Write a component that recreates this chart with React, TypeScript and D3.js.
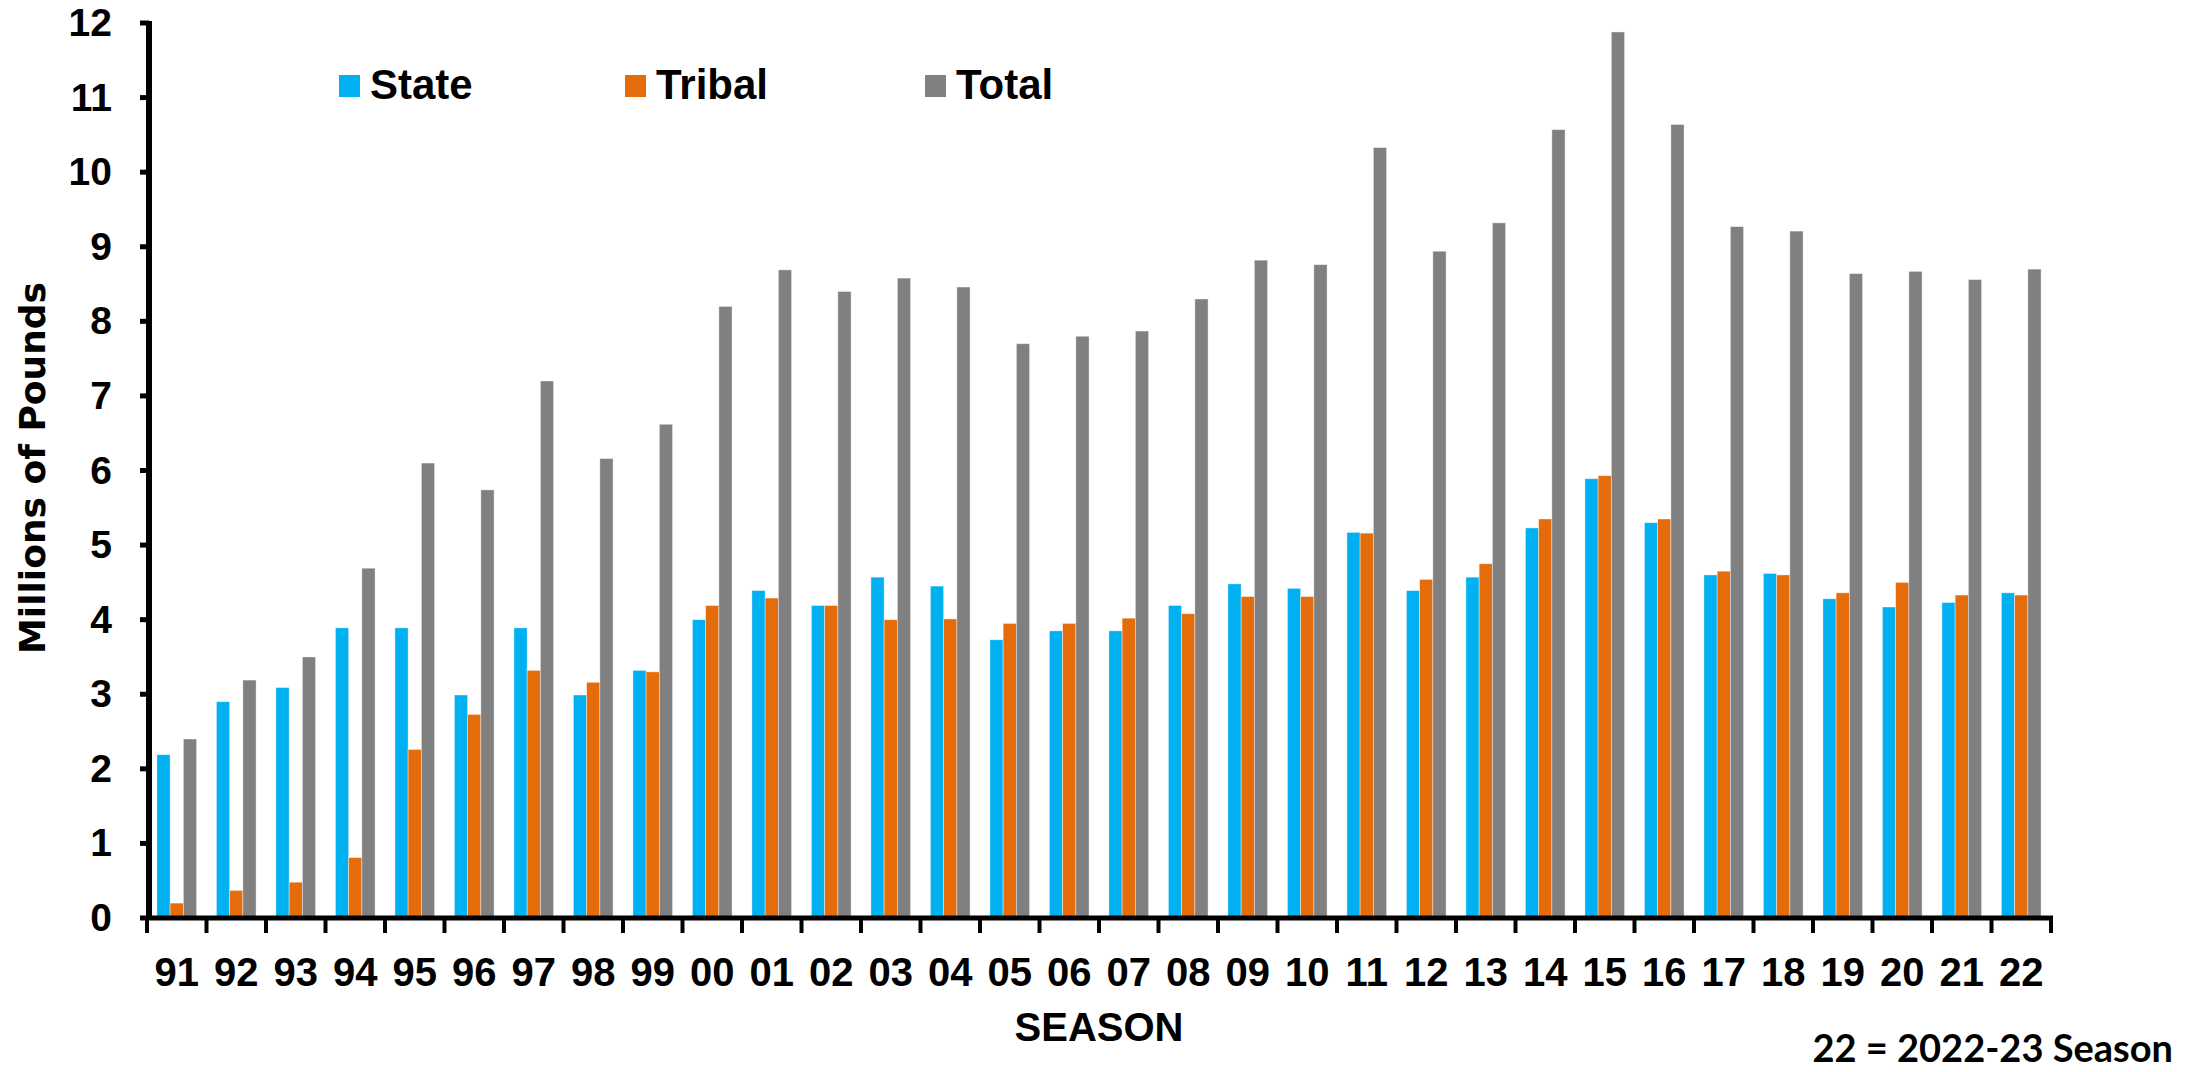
import * as d3 from 'd3';

const SEASONS = ['91', '92', '93', '94', '95', '96', '97', '98', '99', '00', '01', '02', '03', '04', '05', '06',
  '07', '08', '09', '10', '11', '12', '13', '14', '15', '16', '17', '18', '19', '20', '21', '22'];

const STATE = [2.19, 2.9, 3.09, 3.89, 3.89, 2.99, 3.89, 2.99, 3.32, 4.0, 4.39, 4.19, 4.57, 4.45, 3.73, 3.85,
  3.85, 4.19, 4.48, 4.42, 5.17, 4.39, 4.57, 5.23, 5.89, 5.3, 4.6, 4.62, 4.28, 4.17, 4.23, 4.36];
const TRIBAL = [0.2, 0.37, 0.48, 0.81, 2.26, 2.73, 3.32, 3.16, 3.3, 4.19, 4.29, 4.19, 4.0, 4.01, 3.95, 3.95,
  4.02, 4.08, 4.31, 4.31, 5.16, 4.54, 4.75, 5.35, 5.93, 5.35, 4.65, 4.6, 4.36, 4.5, 4.33, 4.33];
const TOTAL = [2.4, 3.19, 3.5, 4.69, 6.1, 5.74, 7.2, 6.16, 6.62, 8.2, 8.69, 8.4, 8.58, 8.46, 7.7, 7.8,
  7.87, 8.3, 8.82, 8.76, 10.33, 8.94, 9.32, 10.57, 11.88, 10.64, 9.27, 9.21, 8.64, 8.67, 8.56, 8.7];

const SERIES = ['State', 'Tribal', 'Total'];
const COLORS: Record<string, string> = { State: '#00B0F0', Tribal: '#E46C0A', Total: '#808080' };
const Y_TICKS = d3.range(0, 13);

const W = 2203;
const H = 1072;
const FONT = '"Liberation Sans", Arial, sans-serif';

export default function App() {
  const x = d3.scaleBand<string>().domain(SEASONS).range([147, 2051]).paddingInner(0).paddingOuter(0);
  // three bars of ~13px inside each 59px season slot
  const xInner = d3.scaleBand<string>().domain(SERIES).range([0, x.bandwidth()])
    .paddingInner(0).paddingOuter(0.75);
  const y = d3.scaleLinear().domain([0, 12]).range([918, 23]);

  const values: Record<string, number[]> = { State: STATE, Tribal: TRIBAL, Total: TOTAL };
  const step = x.step();
  const [x0, x1] = x.range();

  return (
    <svg width={W} height={H} style={{ position: 'fixed', left: 0, top: 0, display: 'block', background: '#fff' }}>
      {/* bars */}
      {SEASONS.map((s, i) => (
        <g key={s} transform={`translate(${x(s)},0)`}>
          {SERIES.map(k => (
            <rect
              key={k}
              x={xInner(k)}
              y={y(values[k][i])}
              width={xInner.bandwidth()}
              height={y(0) - y(values[k][i])}
              fill={COLORS[k]}
              stroke="#ffffff"
              strokeOpacity={0.5}
              strokeWidth={0.8}
            />
          ))}
        </g>
      ))}

      {/* y axis */}
      <line x1={x0 + 2} x2={x0 + 2} y1={y(12) - 2} y2={y(0) + 2} stroke="#000" strokeWidth={6} />
      {Y_TICKS.map(t => (
        <g key={t}>
          <line x1={x0 - 7} x2={x0 + 2} y1={y(t)} y2={y(t)} stroke="#000" strokeWidth={5} />
          <text x={112} y={y(t) + 13} textAnchor="end" fontFamily={FONT} fontWeight={700} fontSize={39}>
            {t}
          </text>
        </g>
      ))}

      {/* x axis */}
      <line x1={x0} x2={x1 + 2} y1={y(0)} y2={y(0)} stroke="#000" strokeWidth={5} />
      {d3.range(SEASONS.length + 1).map(i => (
        <line key={i} x1={x0 + i * step} x2={x0 + i * step} y1={y(0)} y2={y(0) + 15} stroke="#000" strokeWidth={4} />
      ))}
      {SEASONS.map(s => (
        <text key={s} x={(x(s) ?? 0) + step / 2} y={986} textAnchor="middle" fontFamily={FONT} fontWeight={700} fontSize={40}>
          {s}
        </text>
      ))}

      {/* axis titles */}
      <text x={(x0 + x1) / 2} y={1041} textAnchor="middle" fontFamily={FONT} fontWeight={700} fontSize={40}>
        SEASON
      </text>
      <text
        transform={`translate(45,468) rotate(-90)`}
        textAnchor="middle"
        fontFamily={'"DejaVu Sans", Verdana, sans-serif'}
        fontWeight={700}
        fontSize={36}
      >
        Millions of Pounds
      </text>

      {/* legend */}
      {SERIES.map((k, i) => {
        const lx = [339, 625, 925][i];
        return (
          <g key={k}>
            <rect x={lx} y={75} width={21} height={22} fill={COLORS[k]} />
            <text x={lx + 31} y={99} fontFamily={FONT} fontWeight={700} fontSize={42}>{k}</text>
          </g>
        );
      })}

      {/* footnote */}
      <text x={2173} y={1062} textAnchor="end" fontFamily={'Lato, "Open Sans", sans-serif'} fontWeight={700} fontSize={38}>
        22 = 2022-23 Season
      </text>
    </svg>
  );
}
